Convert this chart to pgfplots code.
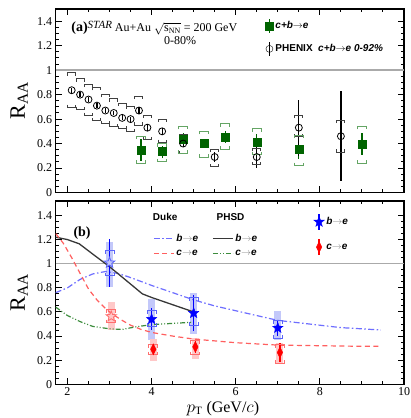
\documentclass[border=0pt]{standalone}
\usepackage{fontspec}
\setmainfont{Liberation Serif}
\setsansfont{Liberation Sans}
\usepackage{pgfplots}
\usepackage{pgfplotstable}
\pgfplotsset{compat=1.18}

\definecolor{dgreen}{RGB}{0,100,0}
\definecolor{lgreen}{RGB}{100,165,100}
\definecolor{shblue}{RGB}{195,200,250}
\definecolor{bkblue}{RGB}{90,100,250}
\definecolor{shred}{RGB}{255,200,200}
\definecolor{bkred}{RGB}{255,110,110}
\definecolor{dukeb}{RGB}{110,110,255}
\definecolor{dukec}{RGB}{255,95,95}
\definecolor{phsdb}{RGB}{55,55,55}
\definecolor{phsdc}{RGB}{60,140,60}
\definecolor{oneline}{RGB}{170,170,170}

% ROOT-like systematic brackets and markers
\pgfdeclareplotmark{bkup}{%
  \pgfpathmoveto{\pgfqpoint{-\pgfplotmarksize}{-0.7\pgfplotmarksize}}%
  \pgfpathlineto{\pgfqpoint{-\pgfplotmarksize}{0pt}}%
  \pgfpathlineto{\pgfqpoint{\pgfplotmarksize}{0pt}}%
  \pgfpathlineto{\pgfqpoint{\pgfplotmarksize}{-0.7\pgfplotmarksize}}%
  \pgfusepathqstroke}
\pgfdeclareplotmark{bkdn}{%
  \pgfpathmoveto{\pgfqpoint{-\pgfplotmarksize}{0.7\pgfplotmarksize}}%
  \pgfpathlineto{\pgfqpoint{-\pgfplotmarksize}{0pt}}%
  \pgfpathlineto{\pgfqpoint{\pgfplotmarksize}{0pt}}%
  \pgfpathlineto{\pgfqpoint{\pgfplotmarksize}{0.7\pgfplotmarksize}}%
  \pgfusepathqstroke}
\pgfdeclareplotmark{fstar}{%
  \pgfpathmoveto{\pgfpointpolar{90}{\pgfplotmarksize}}%
  \pgfpathlineto{\pgfpointpolar{126}{0.42\pgfplotmarksize}}%
  \pgfpathlineto{\pgfpointpolar{162}{\pgfplotmarksize}}%
  \pgfpathlineto{\pgfpointpolar{198}{0.42\pgfplotmarksize}}%
  \pgfpathlineto{\pgfpointpolar{234}{\pgfplotmarksize}}%
  \pgfpathlineto{\pgfpointpolar{270}{0.42\pgfplotmarksize}}%
  \pgfpathlineto{\pgfpointpolar{306}{\pgfplotmarksize}}%
  \pgfpathlineto{\pgfpointpolar{342}{0.42\pgfplotmarksize}}%
  \pgfpathlineto{\pgfpointpolar{18}{\pgfplotmarksize}}%
  \pgfpathlineto{\pgfpointpolar{54}{0.42\pgfplotmarksize}}%
  \pgfpathclose
  \pgfusepathqfillstroke}
\pgfdeclareplotmark{tdiam}{%
  \pgfpathmoveto{\pgfqpoint{0pt}{\pgfplotmarksize}}%
  \pgfpathlineto{\pgfqpoint{0.5\pgfplotmarksize}{0pt}}%
  \pgfpathlineto{\pgfqpoint{0pt}{-\pgfplotmarksize}}%
  \pgfpathlineto{\pgfqpoint{-0.5\pgfplotmarksize}{0pt}}%
  \pgfpathclose
  \pgfusepathqfillstroke}

% PHENIX c+b->e 0-92%
\pgfplotstableread{
x    y     stat  sysu  sysd
2.1  0.836 0.02  0.977 0.695
2.3  0.80  0.02  0.93  0.68
2.5  0.76  0.02  0.885 0.63
2.7  0.71  0.02  0.857 0.585
2.9  0.67  0.02  0.80  0.565
3.1  0.65  0.02  0.765 0.54
3.3  0.61  0.02  0.73  0.52
3.5  0.60  0.02  0.705 0.50
3.7  0.67  0.03  0.787 0.55
3.9  0.53  0.03  0.63  0.434
4.25 0.50  0.03  0.60  0.41
4.75 0.40  0.03  0.475 0.315
5.5  0.29  0.04  0.353 0.21
6.5  0.29  0.09  0.36  0.225
7.5  0.53  0.23  0.63  0.455
8.5  0.46  0.37  0.59  0.33
}\phenix

% STAR c+b->e 0-80%
\pgfplotstableread{
x    y     stat  sysu  sysd
3.75 0.347 0.09  0.46  0.24
4.25 0.334 0.05  0.40  0.25
4.75 0.434 0.05  0.54  0.32
5.25 0.40  0.04  0.50  0.29
5.75 0.456 0.05  0.56  0.355
6.5  0.415 0.06  0.52  0.31
7.5  0.35  0.08  0.47  0.22
9.0  0.393 0.09  0.54  0.24
}\starcb

% b->e
\pgfplotstableread{
x    y     stat  shlo  shhi  sysu  sysd
3.0  1.008 0.20  0.81  1.18  1.11  0.90
4.0  0.54  0.09  0.37  0.71  0.61  0.48
5.0  0.59  0.15  0.42  0.76  0.72  0.49
7.0  0.467 0.07  0.37  0.605 0.53  0.38
}\bblue

% c->e
\pgfplotstableread{
x    y     stat  shlo  shhi  sysu  sysd
3.04 0.563 0.02  0.45  0.68  0.62  0.51
4.04 0.29  0.03  0.19  0.375 0.33  0.245
5.04 0.31  0.05  0.21  0.38  0.36  0.245
7.05 0.264 0.08  0.17  0.34  0.33  0.175
}\cred

\pgfplotsset{
  rootaxis/.style={
    scale only axis, width=348.3pt,
    xmin=1.72, xmax=10,
    xtick={2,4,6,8,10}, minor x tick num=3,
    ytick={0,0.2,0.4,0.6,0.8,1,1.2,1.4}, minor y tick num=3,
    tick align=inside, major tick length=6pt, minor tick length=3pt,
    tick style={black, line width=1pt},
    axis line style={line width=1.3pt},
    tick label style={font=\fontsize{12}{14}\selectfont},
    /pgf/number format/assume math mode=true,
    ylabel={R\textsubscript{AA}},
    ylabel style={font=\fontsize{22}{24}\selectfont, at={(axis description cs:-0.105,0.5)}, anchor=center},
  },
  sysbar/.style={forget plot, only marks, line width=1pt, mark size=#1},
  shadebar/.style={forget plot, draw=none, mark=none,
    error bars/.cd, y dir=both, y explicit, error mark=none,
    error bar style={draw=#1, line width=7pt}, /pgfplots/.cd},
  statbar/.style={error bars/.cd, y dir=both, y explicit, error mark=none,
    error bar style={line width=1.2pt}, /pgfplots/.cd},
  lineleg/.style={legend image code/.code={\draw[mark=none] (0pt,0pt) -- (20pt,0pt);}},
}
\newcommand{\arr}{\textcolor{gray}{$\rightarrow$}}

\begin{document}
\begin{tikzpicture}
\useasboundingbox (0,0) rectangle (411pt,418pt);

% ---------------- panel (a)
\begin{axis}[rootaxis, at={(55.7pt,225.5pt)}, anchor=south west,
  height=183.5pt, ymin=0, ymax=1.5, xticklabels={},
  legend style={at={(rel axis cs:0.593,0.962)}, anchor=north west, draw=none, fill=none,
    row sep=8pt, legend cell align=left,
    font=\sffamily\bfseries\fontsize{10}{12}\selectfont},
]
\addplot[oneline, line width=1.5pt, forget plot] coordinates {(1.72,1) (10,1)};
% PHENIX brackets
\addplot[black!75, sysbar=4pt, mark=bkup] table[x=x, y=sysu]{\phenix};
\addplot[black!75, sysbar=4pt, mark=bkdn] table[x=x, y=sysd]{\phenix};
% STAR brackets
\addplot[lgreen, sysbar=4.3pt, mark=bkup] table[x=x, y=sysu]{\starcb};
\addplot[lgreen, sysbar=4.3pt, mark=bkdn] table[x=x, y=sysd]{\starcb};
% points
\addplot[dgreen, only marks, mark=square*, mark size=4pt,
  legend image code/.code={\draw[dgreen, line width=1.2pt] (4pt,-7pt) -- (4pt,7pt);
    \draw[dgreen, mark=square*, mark size=4pt] plot coordinates {(4pt,0pt)};}, statbar]
  table[x=x, y=y, y error=stat]{\starcb};
\addlegendentry{\textit{c+b}$\rightarrow$\textit{e}}
\addplot[black, only marks, mark=o, mark size=3.5pt, mark options={fill=white, line width=0.8pt},
  legend image code/.code={\draw[black, line width=1pt] (4pt,-7pt) -- (4pt,7pt);
    \draw[black, mark=o, mark size=3.5pt, mark options={fill=white}] plot coordinates {(4pt,0pt)};}, statbar]
  table[x=x, y=y, y error=stat]{\phenix};
\addlegendentry{PHENIX\ \ \textit{c+b$\rightarrow$e 0-92\%}}
\node[anchor=base west, font=\fontsize{12}{14}\selectfont] at (rel axis cs:0.035,0.876)
  {{\fontsize{14}{16}\selectfont\textbf{(a)}}\raisebox{0.5ex}{\fontsize{11}{13}\selectfont\textit{STAR}} Au+Au $\sqrt{\mathrm{s}_{\mathrm{NN}}}$ = 200 GeV};
\node[anchor=base, font=\fontsize{12}{14}\selectfont] at (rel axis cs:0.357,0.808) {0-80\%};
\end{axis}

% ---------------- panel (b)
\begin{axis}[rootaxis, at={(55.7pt,33.7pt)}, anchor=south west,
  height=183.3pt, ymin=0, ymax=1.52,
  xlabel={$p_{\mathrm{T}}$ (GeV/$c$)},
  xlabel style={font=\fontsize{16}{18}\selectfont, at={(axis description cs:0.48,-0.152)}, anchor=base},
  legend columns=2,
  legend style={at={(rel axis cs:0.271,0.842)}, anchor=north west, draw=none, fill=none,
    row sep=3pt, legend cell align=left,
    /tikz/every even column/.append style={column sep=12pt},
    font=\sffamily\bfseries\fontsize{10}{12}\selectfont},
]
% shaded boxes
\addplot[shadebar=shblue] table[x=x, y=y, y error plus expr=\thisrow{shhi}-\thisrow{y}, y error minus expr=\thisrow{y}-\thisrow{shlo}]{\bblue};
\addplot[shadebar=shred] table[x=x, y=y, y error plus expr=\thisrow{shhi}-\thisrow{y}, y error minus expr=\thisrow{y}-\thisrow{shlo}]{\cred};
\addplot[oneline, line width=1.5pt, forget plot] coordinates {(1.72,1) (10,1)};
% model curves
\addplot[dukeb, line width=1.2pt, dash pattern=on 6pt off 2.5pt on 1.5pt off 2.5pt, lineleg] coordinates {
  (1.72,0.76) (2.0,0.80) (2.3,0.87) (2.6,0.915) (2.9,0.935) (3.2,0.92) (3.5,0.885)
  (4.0,0.82) (4.5,0.76) (5.0,0.70) (5.5,0.65) (6.0,0.61) (6.5,0.57) (7.0,0.53)
  (7.5,0.51) (8.0,0.49) (8.5,0.47) (9.0,0.46) (9.45,0.45)};
\addlegendentry{\textit{b}\arr\textit{e}}
\addplot[phsdb, line width=1.3pt, lineleg] coordinates {
  (1.72,1.22) (2.0,1.20) (2.28,1.165) (2.6,1.08) (3.0,0.975) (3.4,0.86) (3.78,0.75)
  (4.0,0.72) (4.5,0.66) (5.0,0.60)};
\addlegendentry{\textit{b}\arr\textit{e}}
\addplot[dukec, line width=1.2pt, dash pattern=on 5pt off 3.5pt, lineleg] coordinates {
  (1.72,1.25) (1.9,1.17) (2.1,1.05) (2.3,0.92) (2.5,0.79) (2.7,0.70) (2.9,0.63)
  (3.0,0.60) (3.25,0.54) (3.5,0.49) (3.75,0.455) (4.0,0.43) (4.5,0.40) (5.0,0.375)
  (5.5,0.36) (6.0,0.345) (6.5,0.335) (7.0,0.325) (8.0,0.32) (9.0,0.315) (9.4,0.315)};
\addlegendentry{\textit{c}\arr\textit{e}}
\addplot[phsdc, line width=1.2pt, dash pattern=on 5pt off 2pt on 1pt off 2pt on 1pt off 2pt, lineleg] coordinates {
  (1.72,0.64) (2.0,0.57) (2.3,0.52) (2.6,0.48) (3.0,0.46) (3.3,0.455) (3.6,0.475)
  (4.0,0.495) (4.5,0.505) (5.0,0.515)};
\addlegendentry{\textit{c}\arr\textit{e}}
% brackets
\addplot[bkblue, sysbar=4.5pt, mark=bkup] table[x=x, y=sysu]{\bblue};
\addplot[bkblue, sysbar=4.5pt, mark=bkdn] table[x=x, y=sysd]{\bblue};
\addplot[bkred, sysbar=4.5pt, mark=bkup] table[x=x, y=sysu]{\cred};
\addplot[bkred, sysbar=4.5pt, mark=bkdn] table[x=x, y=sysd]{\cred};
% stat bars and markers
\addplot[blue, forget plot, only marks, mark=none, statbar] table[x=x, y=y, y error=stat]{\bblue};
\addplot[red, forget plot, only marks, mark=none, statbar] table[x=x, y=y, y error=stat]{\cred};
\addplot[blue, forget plot, only marks, mark=fstar, mark size=5.5pt, mark options={fill=blue},
  skip coords between index={0}{1}] table[x=x, y=y]{\bblue};
\addplot[bkblue, forget plot, only marks, mark=fstar, mark size=5.5pt, mark options={fill=shblue, line width=0.8pt},
  skip coords between index={1}{4}] table[x=x, y=y]{\bblue};
\addplot[red, forget plot, only marks, mark=tdiam, mark size=5.5pt, mark options={fill=red},
  skip coords between index={0}{1}] table[x=x, y=y]{\cred};
\addplot[bkred, forget plot, only marks, mark=fstar, mark size=5.5pt, mark options={fill=shred, line width=0.8pt},
  skip coords between index={1}{4}] table[x=x, y=y]{\cred};
\node[anchor=base west, font=\sffamily\bfseries\fontsize{10}{12}\selectfont] at (rel axis cs:0.269,0.891) {Duke};
\node[anchor=base west, font=\sffamily\bfseries\fontsize{10}{12}\selectfont] at (rel axis cs:0.452,0.891) {PHSD};
\node[anchor=base west, font=\fontsize{14}{16}\selectfont] at (rel axis cs:0.041,0.809) {\textbf{(b)}};
\end{axis}

% second legend of panel (b)
\begin{axis}[at={(55.7pt,33.7pt)}, anchor=south west, scale only axis,
  width=348.3pt, height=183.3pt, hide axis, xmin=0, xmax=1, ymin=0, ymax=1,
  legend style={at={(rel axis cs:0.732,0.945)}, anchor=north west, draw=none, fill=none,
    row sep=8pt, legend cell align=left,
    font=\sffamily\bfseries\fontsize{10}{12}\selectfont},
]
\addlegendimage{blue, legend image code/.code={\draw[blue, line width=1.2pt] (5pt,-8pt) -- (5pt,8pt);
  \draw[blue, mark=fstar, mark size=5.5pt, mark options={fill=blue}] plot coordinates {(5pt,0pt)};}}
\addlegendentry{\textit{b}\arr\textit{e}}
\addlegendimage{red, legend image code/.code={\draw[red, line width=1.2pt] (5pt,-8pt) -- (5pt,8pt);
  \draw[red, mark=tdiam, mark size=5.5pt, mark options={fill=red}] plot coordinates {(5pt,0pt)};}}
\addlegendentry{\textit{c}\arr\textit{e}}
\end{axis}
\end{tikzpicture}
\end{document}
